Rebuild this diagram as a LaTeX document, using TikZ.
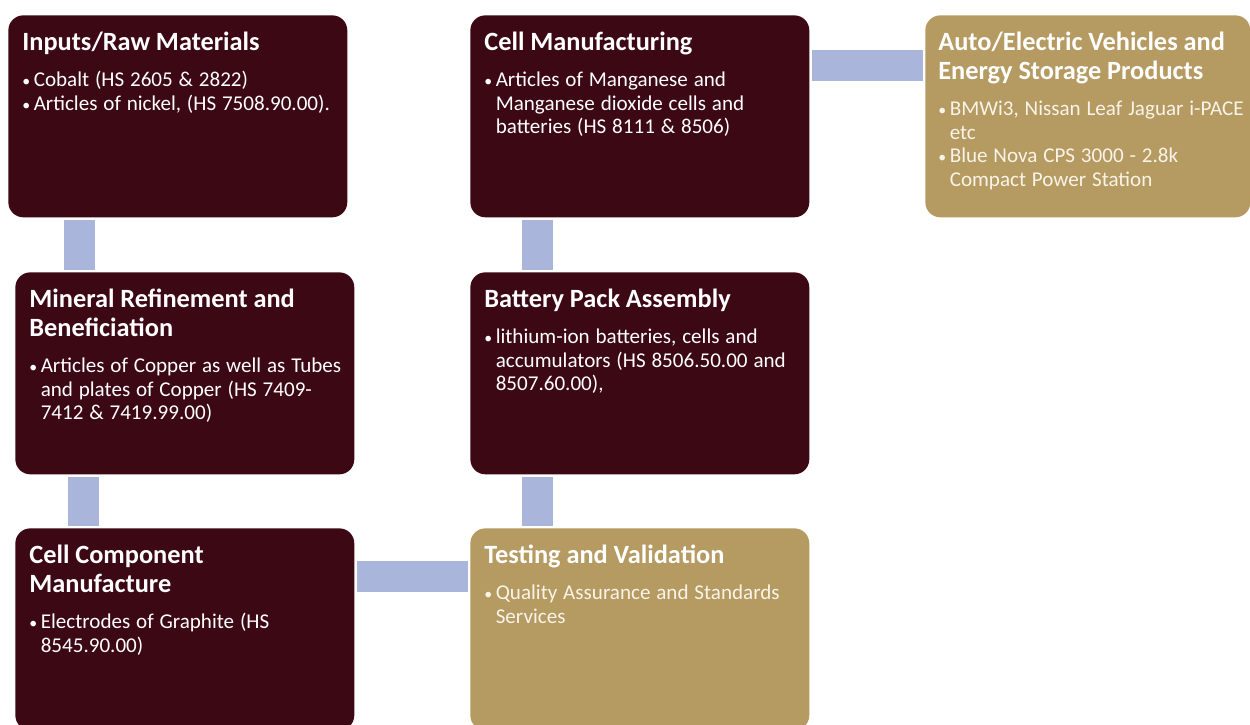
\documentclass[tikz,border=0pt]{standalone}
\usepackage{fontspec}
\setmainfont{Carlito}
\usepackage{tikz}
\usetikzlibrary{positioning}
\definecolor{maroon}{RGB}{60, 8, 20}
\definecolor{gold}{RGB}{181, 154, 98}
\definecolor{bar}{RGB}{169, 181, 218}
\definecolor{cream}{RGB}{250, 244, 232}

\newcommand{\bitem}[1]{\par\hangindent=6.5pt\hangafter=1\noindent\makebox[6.5pt][l]{\small\textbullet}#1\par}
\newcommand{\headline}[1]{{\fontsize{15}{16.5}\selectfont\bfseries #1\par}\vspace{7pt}\fontsize{12}{13.4}\selectfont}

\begin{document}
\begin{tikzpicture}[x=0.02cm, y=-0.02cm,
    stage/.style={draw=none, rounded corners=0.3cm, anchor=north west,
                  minimum width=6.78cm, minimum height=4.04cm, inner sep=0pt},
    dark/.style={stage, fill=maroon},
    light/.style={stage, fill=gold},
    label/.style={anchor=north west, inner sep=0pt, text width=6.5cm, align=left},
    link/.style={draw=bar, line width=0.62cm, shorten <=0.05cm, shorten >=0.05cm}]
  \clip (0, 0) rectangle (1250, 724);
  \fill[white] (0, 0) rectangle (1250, 724);

  \node[dark] (inputs) at (8, 15) {};
  \node[dark] (mineral) at (15, 272) {};
  \node[dark] (component) at (15, 528) {};
  \node[dark] (cellman) at (470, 15) {};
  \node[dark] (pack) at (470, 272) {};
  \node[light] (testing) at (470, 528) {};
  \node[light, minimum width=6.5cm] (vehicles) at (925, 15) {};

  \node[label, text=white] (inputs-t) at ([shift={(14, 17)}]inputs.north west)
    {\headline{Inputs/Raw Materials}
     \bitem{Cobalt (HS 2605 \& 2822)}
     \bitem{Articles of nickel, (HS 7508.90.00).}};
  \node[label, text=white] (mineral-t) at ([shift={(14, 17)}]mineral.north west)
    {\headline{Mineral Refinement and\newline Beneficiation}
     \bitem{Articles of Copper as well as Tubes\newline and plates of Copper (HS 7409-\newline 7412 \& 7419.99.00)}};
  \node[label, text=white] (component-t) at ([shift={(14, 17)}]component.north west)
    {\headline{Cell Component\newline Manufacture}
     \bitem{Electrodes of Graphite (HS\newline 8545.90.00)}};
  \node[label, text=white] (cellman-t) at ([shift={(14, 17)}]cellman.north west)
    {\headline{Cell Manufacturing}
     \bitem{Articles of Manganese and\newline Manganese dioxide cells and\newline batteries (HS 8111 \& 8506)}};
  \node[label, text=white] (pack-t) at ([shift={(14, 17)}]pack.north west)
    {\headline{Battery Pack Assembly}
     \bitem{lithium-ion batteries, cells and\newline accumulators (HS 8506.50.00 and\newline 8507.60.00),}};
  \node[label, text=cream] (testing-t) at ([shift={(14, 17)}]testing.north west)
    {\headline{\textcolor{white}{Testing and Validation}}
     \bitem{Quality Assurance and Standards\newline Services}};
  \node[label, text=cream] (vehicles-t) at ([shift={(13, 17)}]vehicles.north west)
    {\headline{\textcolor{white}{Auto/Electric Vehicles and\newline Energy Storage Products}}
     \bitem{BMWi3, Nissan Leaf Jaguar i-PACE\newline etc}
     \bitem{Blue Nova CPS 3000 - 2.8k\newline Compact Power Station}};

  \draw[link] ([xshift=1.44cm]inputs.south west) -- ([xshift=1.44cm]inputs.south west |- mineral.north);
  \draw[link] ([xshift=1.37cm]mineral.south west) -- ([xshift=1.37cm]mineral.south west |- component.north);
  \draw[link] ([yshift=-0.96cm]component.north east) -- ([yshift=-0.96cm]component.north east -| testing.west);
  \draw[link] ([xshift=1.35cm]testing.north west) -- ([xshift=1.35cm]testing.north west |- pack.south);
  \draw[link] ([xshift=1.35cm]pack.north west) -- ([xshift=1.35cm]pack.north west |- cellman.south);
  \draw[link] ([yshift=-1.02cm]cellman.north east) -- ([yshift=-1.02cm]cellman.north east -| vehicles.west);
\end{tikzpicture}
\end{document}
